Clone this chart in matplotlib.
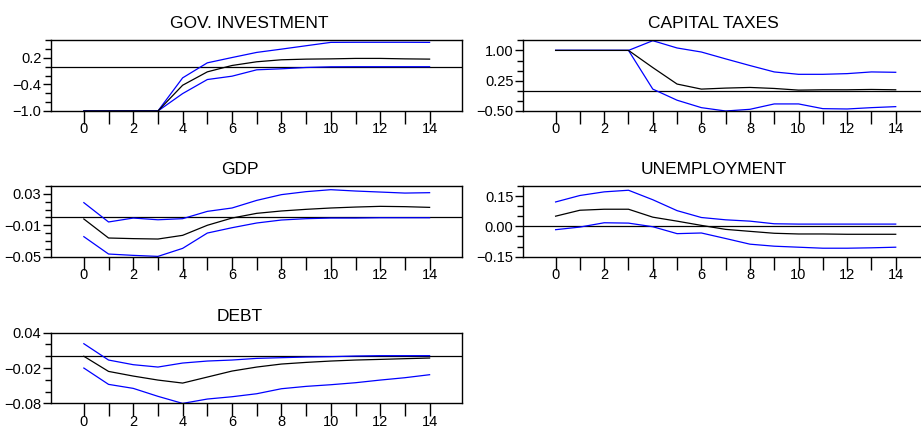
import matplotlib
matplotlib.use("Agg")
import matplotlib.pyplot as plt
from matplotlib.ticker import FixedLocator, FuncFormatter

plt.rcParams['font.family'] = ['Liberation Sans', 'DejaVu Sans']

# impulse response horizon
steps = list(range(15))

# GOV. INVESTMENT
gov_mid = [-1.0, -1.0, -1.0, -1.0, -0.417, -0.114, 0.03, 0.114, 0.159, 0.174, 0.18, 0.19, 0.19, 0.18, 0.174]
gov_hi = [-1.0, -1.0, -1.0, -1.0, -0.25, 0.09, 0.21, 0.326, 0.40, 0.477, 0.553, 0.555, 0.555, 0.555, 0.553]
gov_lo = [-1.0, -1.0, -1.0, -1.0, -0.606, -0.288, -0.212, -0.068, -0.045, -0.015, 0.0, 0.002, 0.002, 0.002, 0.002]

# CAPITAL TAXES
tax_mid = [1.0, 1.0, 1.0, 1.0, 0.575, 0.167, 0.042, 0.067, 0.083, 0.058, 0.017, 0.025, 0.025, 0.033, 0.025]
tax_hi = [1.0, 1.0, 1.0, 1.0, 1.24, 1.06, 0.96, 0.79, 0.625, 0.467, 0.408, 0.408, 0.425, 0.467, 0.458]
tax_lo = [1.0, 1.0, 1.0, 1.0, 0.042, -0.233, -0.417, -0.5, -0.458, -0.325, -0.325, -0.442, -0.45, -0.417, -0.392]

# GDP
gdp_mid = [-0.002, -0.0262, -0.027, -0.0275, -0.0228, -0.010, -0.0008, 0.0052, 0.0082, 0.0103, 0.012, 0.0132, 0.0141, 0.0137, 0.0128]
gdp_hi = [0.0188, -0.0058, -0.0008, -0.003, -0.0016, 0.0077, 0.012, 0.0217, 0.029, 0.0328, 0.0353, 0.0336, 0.0323, 0.031, 0.0315]
gdp_lo = [-0.0245, -0.0466, -0.0483, -0.0496, -0.0394, -0.0199, -0.0131, -0.0071, -0.0033, -0.0016, -0.0008, -0.0008, -0.0004, -0.0004, -0.0004]

# UNEMPLOYMENT
unemp_mid = [0.0506, 0.080, 0.085, 0.085, 0.0457, 0.026, 0.005, -0.0147, -0.0245, -0.034, -0.0375, -0.0375, -0.039, -0.039, -0.039]
unemp_hi = [0.121, 0.153, 0.171, 0.179, 0.132, 0.078, 0.044, 0.0326, 0.026, 0.013, 0.0114, 0.0114, 0.0114, 0.0114, 0.0114]
unemp_lo = [-0.0163, -0.0033, 0.018, 0.0163, -0.0016, -0.0359, -0.0326, -0.060, -0.088, -0.098, -0.103, -0.108, -0.108, -0.106, -0.103]

# DEBT
debt_mid = [0.0, -0.0257, -0.0336, -0.0404, -0.0455, -0.0353, -0.0251, -0.0183, -0.0132, -0.0104, -0.0081, -0.0064, -0.0053, -0.0041, -0.003]
debt_hi = [0.0213, -0.0064, -0.0143, -0.0183, -0.0115, -0.0081, -0.0064, -0.0036, -0.0024, -0.0013, -0.0007, 0.0004, 0.001, 0.001, 0.001]
debt_lo = [-0.02, -0.0477, -0.0545, -0.068, -0.08, -0.0726, -0.0687, -0.0636, -0.0551, -0.0511, -0.0483, -0.0449, -0.0404, -0.0364, -0.0313]

titles = ['GOV. INVESTMENT', 'CAPITAL TAXES', 'GDP', 'UNEMPLOYMENT', 'DEBT']

# labelled y ticks per panel
gov_yticks = [-1.0, -0.4, 0.2]
tax_yticks = [-0.5, 0.25, 1.0]
gdp_yticks = [-0.05, -0.01, 0.03]
unemp_yticks = [-0.15, 0.0, 0.15]
debt_yticks = [-0.08, -0.02, 0.04]

W, H = 921, 428
fig = plt.figure(figsize=(W / 100, H / 100), dpi=100, facecolor='white')


def px_axes(left, top, width, height):
    return fig.add_axes([left / W, 1 - (top + height) / H, width / W, height / H])


def panel(ax, title, mid, hi, lo, ylim, yticks, minor, decimals, title_x):
    ax.axhline(0, color='black', lw=0.9, zorder=1)
    ax.plot(steps, hi, color='#0000ff', lw=0.9, zorder=2)
    ax.plot(steps, lo, color='#0000ff', lw=0.9, zorder=2)
    ax.plot(steps, mid, color='black', lw=0.9, zorder=3)

    ax.set_xlim(-1.33, 15.3)
    ax.set_ylim(*ylim)
    ax.xaxis.set_major_locator(FixedLocator(list(range(0, 15, 2))))
    ax.xaxis.set_minor_locator(FixedLocator(list(range(1, 15, 2))))
    ax.yaxis.set_major_locator(FixedLocator(yticks))
    n = int(round((ylim[1] - ylim[0]) / minor))
    ax.yaxis.set_minor_locator(FixedLocator([ylim[0] + i * minor for i in range(n + 1)]))
    ax.yaxis.set_major_formatter(FuncFormatter(
        lambda v, p: f'{v:.{decimals}f}'.replace('-', '\u2212')))

    ax.tick_params(axis='x', which='both', direction='out', length=9, width=1, pad=-1,
                   labelsize=10.5, colors='black')
    ax.tick_params(axis='y', which='major', direction='out', length=6, width=1, pad=1,
                   labelsize=10.5)
    ax.tick_params(axis='y', which='minor', direction='out', length=4, width=1)
    for s in ax.spines.values():
        s.set_linewidth(1.0)
        s.set_color('black')

    ax.text(title_x, 1.0 + 12 / 70.7, title, transform=ax.transAxes,
            ha='center', va='baseline', fontsize=12.5)


# frame geometry in pixels
row_tops = [40.3, 186.0, 332.7]
box_h = 70.7
left_x, left_w = 51.0, 410.7
right_x, right_w = 523.3, 404.0

ax1 = px_axes(left_x, row_tops[0], left_w, box_h)
panel(ax1, titles[0], gov_mid, gov_hi, gov_lo, (-1.0, 0.6), gov_yticks, 0.2, 1, 0.482)

ax2 = px_axes(right_x, row_tops[0], right_w, box_h)
panel(ax2, titles[1], tax_mid, tax_hi, tax_lo, (-0.5, 1.25), tax_yticks, 0.25, 2, 0.471)

ax3 = px_axes(left_x, row_tops[1], left_w, box_h)
panel(ax3, titles[2], gdp_mid, gdp_hi, gdp_lo, (-0.05, 0.04), gdp_yticks, 0.01, 2, 0.46)

ax4 = px_axes(right_x, row_tops[1], right_w, box_h)
panel(ax4, titles[3], unemp_mid, unemp_hi, unemp_lo, (-0.15, 0.20), unemp_yticks, 0.05, 2, 0.471)

ax5 = px_axes(left_x, row_tops[2], left_w, box_h)
panel(ax5, titles[4], debt_mid, debt_hi, debt_lo, (-0.08, 0.04), debt_yticks, 0.02, 2, 0.46)

fig.savefig('out.png', dpi=100, facecolor='white')
